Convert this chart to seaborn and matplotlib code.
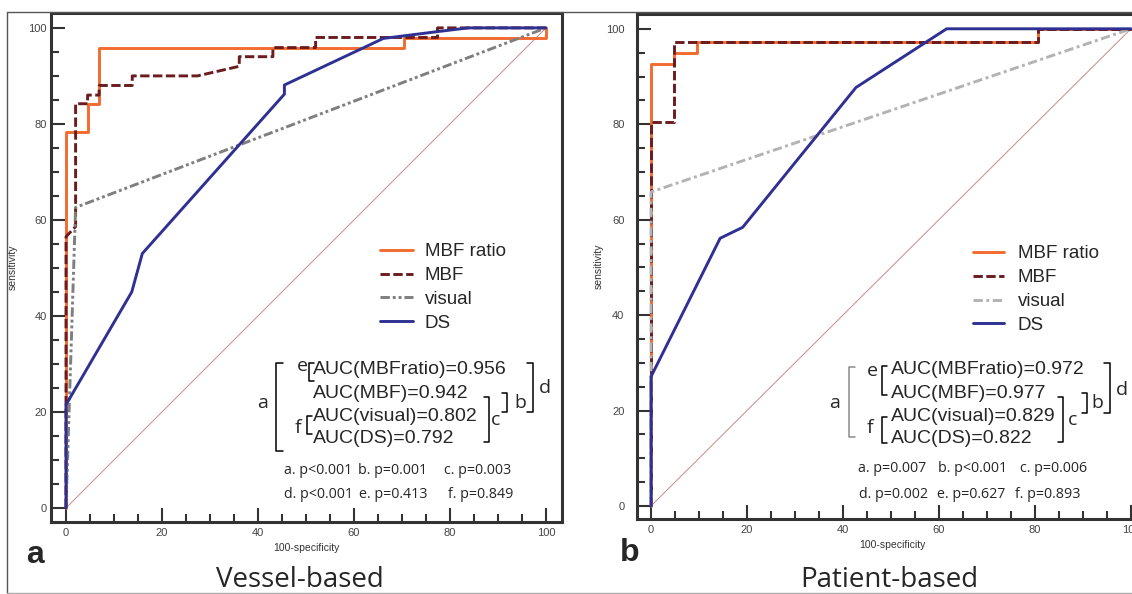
import numpy as np
import pandas as pd
import matplotlib.pyplot as plt
import seaborn as sns
from matplotlib.lines import Line2D
from matplotlib.ticker import MultipleLocator

# ---- data (100-specificity, sensitivity) ----
# Vessel-based
v_ratio_x = [0, 0, 4.5, 4.5, 6.9, 6.9, 70.4, 70.4, 100, 100]
v_ratio_y = [0, 78.3, 78.3, 84.1, 84.1, 95.9, 95.9, 97.9, 97.9, 100]
v_mbf_x = [0, 0, 2.0, 2.0, 4.5, 4.5, 6.9, 6.9, 13.8, 13.8, 27.4, 36.1, 36.1,
           43.1, 43.1, 52.0, 52.0, 77.4, 77.4, 100]
v_mbf_y = [0, 56.5, 58.6, 84.2, 84.2, 86.0, 86.0, 88.0, 88.0, 90.0, 90.0, 92.0,
           94.0, 94.0, 95.9, 95.9, 98.0, 98.0, 100, 100]
v_visual_x = [0, 2.0, 100]
v_visual_y = [0, 62.6, 100]
v_ds_x = [0, 0, 13.7, 15.9, 45.5, 45.5, 66.1, 77.2, 83.8, 100]
v_ds_y = [0, 21.5, 45.0, 53.0, 86.2, 88.1, 97.8, 99.2, 100, 100]

# Patient-based
p_ratio_x = [0, 0, 4.8, 4.8, 9.5, 9.5, 80.6, 80.6, 100]
p_ratio_y = [0, 92.6, 92.6, 94.9, 94.9, 97.2, 97.2, 100, 100]
p_mbf_x = [0, 0, 4.8, 4.8, 80.6, 80.6, 100]
p_mbf_y = [0, 80.4, 80.4, 97.3, 97.3, 100, 100]
p_visual_x = [0, 0, 100]
p_visual_y = [0, 65.8, 100]
p_ds_x = [0, 0, 14.4, 19.1, 42.7, 61.6, 100]
p_ds_y = [0, 27.1, 56.1, 58.4, 87.7, 100, 100]

diag = [0, 100]
series_names = ["MBF ratio", "MBF", "visual", "DS"]

v_auc = ["AUC(MBFratio)=0.956", "AUC(MBF)=0.942", "AUC(visual)=0.802", "AUC(DS)=0.792"]
p_auc = ["AUC(MBFratio)=0.972", "AUC(MBF)=0.977", "AUC(visual)=0.829", "AUC(DS)=0.822"]
v_pvals = ["a. p<0.001", "b. p=0.001", "c. p=0.003", "d. p<0.001", "e. p=0.413", "f. p=0.849"]
p_pvals = ["a. p=0.007", "b. p<0.001", "c. p=0.006", "d. p=0.002", "e. p=0.627", "f. p=0.893"]

W, H = 1132, 594

sns.set_theme(style="white")
plt.rcParams['font.family'] = ['Liberation Sans', 'DejaVu Sans']

fig = plt.figure(figsize=(W / 100, H / 100), dpi=100)


def fx(x):
    return x / W


def fy(y):
    return 1 - y / H


def ftxt(x, y, s, **kw):
    fig.text(fx(x), fy(y), s, **kw)


def bracket(x, y0, y1, tick, color="black"):
    fig.add_artist(Line2D([fx(x + tick), fx(x), fx(x), fx(x + tick)],
                          [fy(y0), fy(y0), fy(y1), fy(y1)],
                          color=color, lw=1.1, transform=fig.transFigure))


ORANGE = "#F26B30"
DARKRED = "#6B1C1F"
BLUE = "#2E3192"
DIAG = "#C98A86"


def draw_panel(ax, curves, visual_color, visual_ls):
    sns.lineplot(x=diag, y=diag, ax=ax, color=DIAG, linewidth=0.7,
                 estimator=None, sort=False)
    styles = [
        (ORANGE, "-"),
        (DARKRED, (0, (3.2, 1.2))),
        (visual_color, visual_ls),
        (BLUE, "-"),
    ]
    for (xs, ys), name, (c, ls) in zip(curves, series_names, styles):
        sns.lineplot(x=xs, y=ys, ax=ax, color=c, linewidth=2.1, linestyle=ls,
                     estimator=None, sort=False, label=name)


def setup(ax, xlim, ylim, ypad):
    ax.set_xlim(*xlim)
    ax.set_ylim(*ylim)
    for a in (ax.xaxis, ax.yaxis):
        a.set_major_locator(MultipleLocator(20))
        a.set_minor_locator(MultipleLocator(5))
    ax.tick_params(which="both", direction="in", bottom=True, left=True,
                   top=False, right=False, color="#333333", width=1.5)
    ax.tick_params(which="major", length=10, labelsize=8, labelcolor="#444444")
    ax.tick_params(axis="x", which="major", pad=4)
    ax.tick_params(axis="y", which="major", pad=ypad)
    ax.tick_params(which="minor", length=5.5)
    for s in ax.spines.values():
        s.set_linewidth(2.2)
        s.set_color("#333333")
    ax.set_xlabel("100-specificity", fontsize=7.5, color="#333333")
    ax.set_ylabel("sensitivity", fontsize=7.5, color="#333333")
    ax.xaxis.label.set_va("center")
    ax.yaxis.label.set_va("center")


# ---- left panel ----
axL = fig.add_axes([51 / W, (594 - 522) / H, 511 / W, 509 / H])
draw_panel(axL, [(v_ratio_x, v_ratio_y), (v_mbf_x, v_mbf_y),
                 (v_visual_x, v_visual_y), (v_ds_x, v_ds_y)],
           "#7F7F7F", (0, (3.2, 1.0, 1.0, 1.0, 1.0, 1.0)))
setup(axL, (-3.125, 103.33), (-2.92, 103.1), 3)
axL.xaxis.set_label_coords(0.5, -0.051)
axL.yaxis.set_label_coords(-0.0744, 0.5)
axL.legend(loc="upper left", bbox_to_anchor=(0.644, 0.548), frameon=False,
           fontsize=13.5, handlelength=1.75, handletextpad=0.64,
           labelspacing=0.36, borderpad=0, borderaxespad=0)

# ---- right panel ----
axR = fig.add_axes([637 / W, (594 - 519) / H, 509.8 / W, 505 / H])
draw_panel(axR, [(p_ratio_x, p_ratio_y), (p_mbf_x, p_mbf_y),
                 (p_visual_x, p_visual_y), (p_ds_x, p_ds_y)],
           "#B3B3B3", (0, (3.2, 1.2, 1.0, 1.2)))
setup(axR, (-2.92, 103.3), (-2.73, 103.1), 9)
axR.xaxis.set_label_coords(0.5, -0.0515)
axR.yaxis.set_label_coords(-0.0745, 0.5)
axR.legend(loc="upper left", bbox_to_anchor=(0.659, 0.542), frameon=False,
           fontsize=13.5, handlelength=1.65, handletextpad=0.75,
           labelspacing=0.36, borderpad=0, borderaxespad=0)

# ---- AUC annotation blocks ----
auc_rows = [370, 393.3, 416.7, 438.3]
letter_font = dict(family=["Open Sans", "DejaVu Sans"], fontsize=14, va="center")
p_font = dict(family=["Open Sans", "DejaVu Sans"], fontsize=10.3, va="center")

for s, y in zip(v_auc, auc_rows):
    ftxt(313, y, s, fontsize=14, va="center")
for s, y in zip(p_auc, auc_rows):
    ftxt(890.7, y, s, fontsize=14, va="center")

# left brackets
bracket(276, 363, 451, 7)
bracket(309, 363, 381, 5)
bracket(307, 416, 434, 5)
bracket(489, 397, 442, -5)
bracket(507, 393, 412, -5)
bracket(533, 363, 412, -6)
ftxt(263, 403, "a", ha="center", **letter_font)
ftxt(302, 366, "e", ha="center", **letter_font)
ftxt(298, 428, "f", ha="center", **letter_font)
ftxt(496, 420, "c", ha="center", **letter_font)
ftxt(520, 403, "b", ha="center", **letter_font)
ftxt(545, 388, "d", ha="center", **letter_font)

# right brackets
bracket(849, 367, 437, 6, color="#8C8C8C")
bracket(882, 366, 395, 5)
bracket(882, 417, 443, 5)
bracket(1063, 397, 442, -5)
bracket(1087, 393, 413, -5)
bracket(1110, 363, 413, -6)
ftxt(835, 403, "a", ha="center", **letter_font)
ftxt(872, 371, "e", ha="center", **letter_font)
ftxt(870, 428, "f", ha="center", **letter_font)
ftxt(1073, 420, "c", ha="center", **letter_font)
ftxt(1097, 403, "b", ha="center", **letter_font)
ftxt(1122, 390, "d", ha="center", **letter_font)

# p-values
v_px = [284, 358, 444, 284, 359, 448]
p_px = [858, 938, 1020, 859, 937, 1015]
for i, (s, x) in enumerate(zip(v_pvals, v_px)):
    ftxt(x, 470 if i < 3 else 495, s, ha="left", **p_font)
for i, (s, x) in enumerate(zip(p_pvals, p_px)):
    ftxt(x, 469 if i < 3 else 495, s, ha="left", **p_font)

# panel labels and titles
ftxt(35, 555, "a", fontsize=23, fontweight="bold", ha="center", va="center")
ftxt(630, 553, "b", fontsize=23, fontweight="bold", ha="center", va="center")
ftxt(300, 587, "Vessel-based", family=["Open Sans", "DejaVu Sans"],
     fontsize=20, ha="center", va="baseline")
ftxt(889, 587, "Patient-based", family=["Open Sans", "DejaVu Sans"],
     fontsize=20, ha="center", va="baseline")

# thin outer frame lines
for xs, ys, c in [([7, 7], [12, 593], "#555555"),
                  ([7, W], [12, 12], "#555555"),
                  ([7, W], [592.5, 592.5], "#AAAAAA")]:
    fig.add_artist(Line2D([fx(v) for v in xs], [fy(v) for v in ys],
                          color=c, lw=1.0, transform=fig.transFigure))

plt.savefig("out.png", dpi=100)
plt.close()
